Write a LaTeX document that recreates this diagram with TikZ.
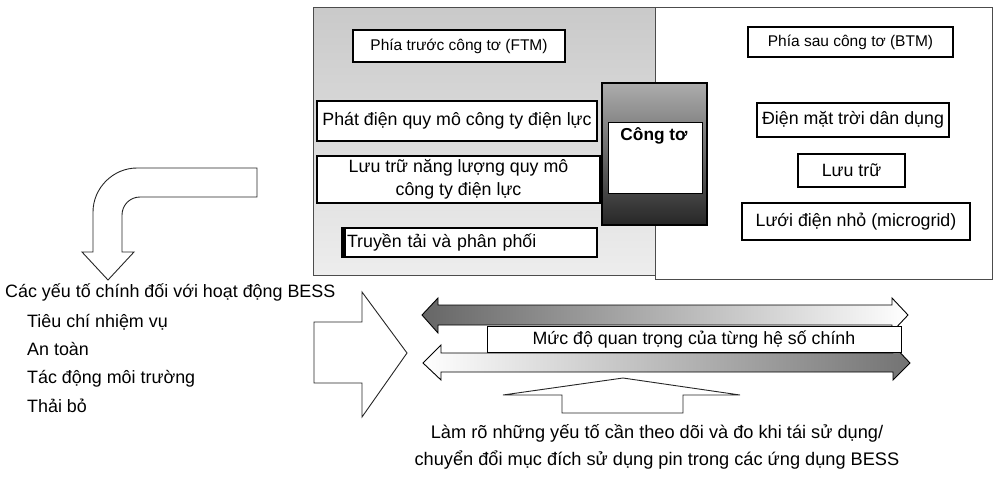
\documentclass[tikz,border=0pt]{standalone}
\usepackage{fontspec}
\setmainfont{Liberation Sans}
\begin{document}
\begin{tikzpicture}[x=1pt,y=-1pt,
  box/.style={draw=black, fill=white, line width=1.1pt, inner sep=0pt,
    font=\fontsize{17.8}{21}\selectfont, align=center},
  thickbox/.style={box, line width=2pt},
  headbox/.style={thickbox, font=\fontsize{15.5}{19}\selectfont},
  txt/.style={font=\fontsize{17.9}{20}\selectfont, anchor=base west, inner sep=0pt},
  btxt/.style={font=\fontsize{18.2}{20}\selectfont, anchor=base, inner sep=0pt},
  outl/.style={draw=black!85, line width=0.9pt, fill=white, line join=miter},
  panel/.style={draw=black!70, line width=0.8pt}]
\useasboundingbox (0,0) rectangle (993,480);

% panels
\draw[panel, top color=gray!42, bottom color=gray!14] (313,7) rectangle (655,275);
\draw[panel, fill=white] (655,7) rectangle (992,279);

% FTM side boxes
\node[headbox, minimum width=212, minimum height=32] (ftm) at (459,46) {Phía trước công tơ (FTM)};
\node[box, minimum width=280, minimum height=40] (gen) at (457,121) {Phát điện quy mô công ty điện lực};
\node[box, minimum width=283, minimum height=47, font=\fontsize{17.8}{23}\selectfont] (stor) at (458.5,179.5) {Lưu trữ năng lượng quy mô\\công ty điện lực};
\node[thickbox, minimum width=255, minimum height=29, text width=245, align=left] (td) at (469.5,242.5) {Truyền tải và phân phối};
\fill[black] (td.north west) rectangle ([xshift=5pt]td.south west);

% meter
\node[draw=black, line width=1.5pt, top color=gray!65, bottom color=black!85,
  minimum width=105, minimum height=142, inner sep=0pt] (meter) at (654.5,154) {};
\node[draw=black, line width=0.8pt, fill=white, minimum width=94, minimum height=71, inner sep=0pt] (meterin) at (655,157.5) {};
\node[font=\fontsize{17.3}{20}\selectfont\bfseries, inner sep=0pt] (metert) at (654,136) {Công tơ};

% BTM side boxes
\node[headbox, minimum width=205, minimum height=30] (btm) at (850.5,42) {Phía sau công tơ (BTM)};
\node[box, minimum width=192, minimum height=34] (solar) at (853,120) {Điện mặt trời dân dụng};
\node[box, minimum width=107, minimum height=33] (bstor) at (851.5,170.5) {Lưu trữ};
\node[box, minimum width=228, minimum height=37] (micro) at (856,221.5) {Lưới điện nhỏ (microgrid)};

% bent arrow
\draw[outl] (257,168) -- (137,168) .. controls (113,168) and (93,188) .. (93,212)
  -- (93,252) -- (82,252) -- (108,280) -- (134,252) -- (122,252) -- (122,215)
  .. controls (122,205) and (130,197) .. (140,197) -- (257,197) -- cycle;

% left texts
\node[txt] (key) at (5,297) {Các yếu tố chính đối với hoạt động BESS};
\node[txt] (k1) at (27,327) {Tiêu chí nhiệm vụ};
\node[txt] (k2) at (27,355) {An toàn};
\node[txt] (k3) at (27,383) {Tác động môi trường};
\node[txt] (k4) at (27,412) {Thải bỏ};

% big right arrow
\draw[outl] (314,322) -- (362,322) -- (362,292) -- (407,353) -- (362,417)
  -- (362,383) -- (314,383) -- cycle;

% double arrows
\draw[draw=black, line width=0.9pt, left color=black!60, middle color=gray!30, right color=white]
  (422,315) -- (438,298) -- (438,305) -- (892,305) -- (892,298) -- (908,315)
  -- (892,332) -- (892,325) -- (438,325) -- (438,333) -- cycle;
\draw[draw=black, line width=0.9pt, left color=white, middle color=gray!20, right color=black!55]
  (423,363) -- (441,345) -- (441,353) -- (893,353) -- (893,345) -- (910,363)
  -- (893,380) -- (893,372) -- (441,372) -- (441,380) -- cycle;
\node[box, line width=1pt, minimum width=414, minimum height=26] (imp) at (694,339) {Mức độ quan trọng của từng hệ số chính};

% up arrow
\draw[outl] (562,413) -- (562,395) -- (503,395) -- (623,378) -- (740,395)
  -- (683,395) -- (683,413) -- cycle;

% bottom text
\node[btxt] (b1) at (657,438) {Làm rõ những yếu tố cần theo dõi và đo khi tái sử dụng/};
\node[btxt] (b2) at (657,465) {chuyển đổi mục đích sử dụng pin trong các ứng dụng BESS};
\end{tikzpicture}
\end{document}
